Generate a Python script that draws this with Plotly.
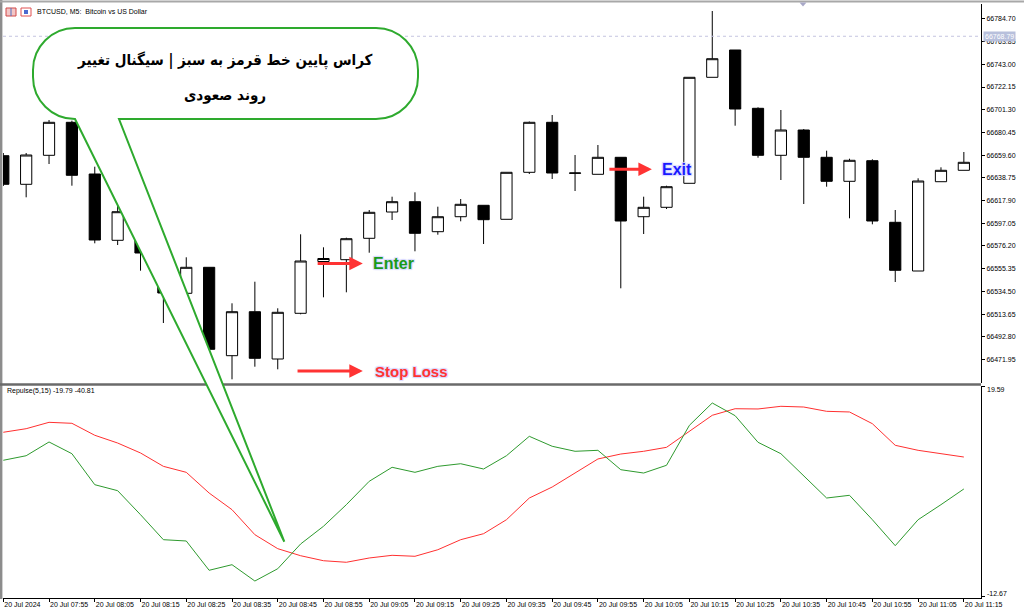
import plotly.graph_objects as go
import pandas as pd

# ---------------- data ----------------
times = pd.date_range("2024-07-20 07:45", periods=43, freq="5min")

open_ = [66659.10, 66632.84, 66659.47, 66689.77, 66642.30, 66581.41, 66583.52, 66567.91, 66532.74, 66556.62,
         66475.44, 66515.84, 66472.41, 66514.38, 66561.94, 66563.60, 66583.25, 66607.40, 66616.86, 66589.31,
         66603.08, 66613.55, 66600.70, 66643.85, 66689.77, 66642.94, 66642.02, 66657.63, 66603.08, 66611.72,
         66633.75, 66731.10, 66756.16, 66702.63, 66659.47, 66682.70, 66657.63, 66635.59, 66654.51, 66597.94,
         66553.22, 66635.22, 66645.69]
high = [66661.58, 66661.58, 66691.88, 66691.24, 66649.00, 66613.83, 66589.03, 66572.50, 66565.80, 66556.62,
        66523.56, 66543.39, 66518.97, 66586.92, 66574.98, 66583.80, 66609.24, 66621.45, 66625.49, 66612.27,
        66619.34, 66613.55, 66643.85, 66690.51, 66696.47, 66659.74, 66668.93, 66657.63, 66621.45, 66631.55,
        66731.10, 66791.98, 66756.16, 66703.55, 66701.07, 66683.62, 66663.69, 66656.34, 66655.79, 66609.24,
        66638.35, 66648.45, 66662.50]
low = [66631.28, 66620.90, 66651.48, 66631.55, 66578.66, 66577.10, 66553.50, 66505.47, 66532.74, 66481.32,
       66453.77, 66465.34, 66462.95, 66513.46, 66529.07, 66533.66, 66570.02, 66600.05, 66571.31, 66586.55,
       66598.86, 66578.01, 66600.70, 66642.30, 66637.70, 66626.68, 66642.02, 66537.33, 66587.20, 66610.15,
       66633.75, 66731.10, 66686.65, 66657.26, 66636.78, 66614.75, 66630.63, 66601.61, 66596.10, 66543.12,
       66553.22, 66635.22, 66645.69]
close = [66632.84, 66659.74, 66689.77, 66641.10, 66581.69, 66607.67, 66569.75, 66533.02, 66556.62, 66481.32,
         66515.84, 66473.05, 66515.29, 66562.40, 66564.70, 66582.88, 66607.12, 66616.86, 66587.84, 66603.08,
         66614.47, 66600.33, 66643.85, 66689.77, 66643.21, 66643.21, 66657.63, 66599.13, 66611.72, 66630.63,
         66731.10, 66748.17, 66701.98, 66659.47, 66682.70, 66657.63, 66635.59, 66654.88, 66599.13, 66553.86,
         66635.87, 66645.69, 66653.04]

repulse_green = [8.18, 8.88, 10.99, 9.19, 4.43, 3.51, -0.18, -4.02, -4.22, -8.72,
                 -7.86, -10.37, -8.48, -4.68, -1.96, 1.36, 4.95, 7.10, 6.33, 7.25,
                 7.65, 6.84, 8.88, 11.86, 10.33, 9.56, 9.71, 6.73, 6.22, 7.41,
                 13.55, 16.98, 15.03, 10.94, 9.19, 5.72, 2.38, 2.80, -0.95, -4.94,
                 -0.95, 1.36, 3.77]
repulse_red = [12.48, 13.03, 14.01, 13.86, 12.02, 10.83, 9.30, 7.25, 6.33, 3.15,
               0.59, -3.25, -5.40, -6.48, -7.25, -7.49, -6.83, -6.42, -6.57, -5.56,
               -4.02, -3.10, -0.95, 2.38, 4.07, 6.22, 8.38, 9.14, 9.56, 10.17,
               12.63, 15.09, 16.10, 16.06, 16.47, 16.36, 15.70, 15.60, 13.80, 10.48,
               9.71, 9.19, 8.68]

tick_times = pd.date_range("2024-07-20 07:45", "2024-07-20 11:15", freq="10min")
tick_labels = ["20 Jul 2024"] + ["20 Jul " + t.strftime("%H:%M") for t in tick_times[1:]]

price_ticks = [66784.70, 66763.85, 66743.00, 66722.15, 66701.30, 66680.45, 66659.60, 66638.75,
               66617.90, 66597.05, 66576.20, 66555.35, 66534.50, 66513.65, 66492.80, 66471.95]
repulse_ticks = [19.59, -12.67]
current_price = 66768.79

title_text = "BTCUSD, M5:  Bitcoin vs US Dollar"
indicator_text = "Repulse(5,15) -19.79 -40.81"
bubble_line1 = "کراس پایین خط قرمز به سبز | سیگنال تغییر"
bubble_line2 = "روند صعودی"

# ---------------- layout geometry ----------------
W, H = 1024, 616
PL, PR, PT, PB = 3, 981, 4, 598


def fx(px):
    return (px - PL) / (PR - PL)


def fy(py):
    return (PB - py) / (PB - PT)


FONT = "Liberation Sans, Arial, sans-serif"
x_range = ["2024-07-20 07:44:56.1", "2024-07-20 11:18:45"]

fig = go.Figure()
fig.add_trace(go.Candlestick(
    x=times, open=open_, high=high, low=low, close=close,
    increasing=dict(line=dict(color="#000000", width=1), fillcolor="#ffffff"),
    decreasing=dict(line=dict(color="#000000", width=1), fillcolor="#000000"),
    whiskerwidth=0, xaxis="x", yaxis="y", showlegend=False, name="BTCUSD"))
fig.add_trace(go.Scatter(x=times, y=repulse_red, mode="lines",
                         line=dict(color="#ff3030", width=1), xaxis="x2", yaxis="y2",
                         showlegend=False, name="Repulse slow"))
fig.add_trace(go.Scatter(x=times, y=repulse_green, mode="lines",
                         line=dict(color="#2e9a2e", width=1), xaxis="x2", yaxis="y2",
                         showlegend=False, name="Repulse fast"))

# ---------------- shapes ----------------
shapes = []
shapes.append(dict(type="line", xref="paper", yref="paper", x0=fx(1.2), x1=fx(1.2), y0=fy(0), y1=fy(599),
                   line=dict(color="#8c8c8c", width=2.4)))
shapes.append(dict(type="line", xref="paper", yref="paper", x0=fx(0), x1=fx(1024), y0=fy(1.5), y1=fy(1.5),
                   line=dict(color="#a8a8a8", width=2)))
shapes.append(dict(type="rect", xref="paper", yref="paper", x0=fx(0), x1=fx(981), y0=fy(385.8), y1=fy(383.2),
                   fillcolor="#6a6a6a", line=dict(width=0)))
shapes.append(dict(type="line", xref="paper", yref="y", x0=0, x1=1, y0=current_price, y1=current_price,
                   line=dict(color="#c4c4e0", width=1, dash="dot")))
shapes.append(dict(type="path", xref="paper", yref="paper",
                   path=f"M {fx(799.5)} {fy(2.5)} L {fx(806.5)} {fy(2.5)} L {fx(803)} {fy(6.5)} Z",
                   fillcolor="#a8a8c8", line=dict(width=0)))
shapes.append(dict(type="rect", xref="paper", yref="paper", x0=fx(6), x1=fx(16), y0=fy(16), y1=fy(8),
                   fillcolor="#f3c6c6", line=dict(color="#d04848", width=1)))
shapes.append(dict(type="line", xref="paper", yref="paper", x0=fx(11), x1=fx(11), y0=fy(16), y1=fy(8),
                   line=dict(color="#5070c0", width=1)))
shapes.append(dict(type="rect", xref="paper", yref="paper", x0=fx(21), x1=fx(31), y0=fy(16), y1=fy(8),
                   fillcolor="#ffffff", line=dict(color="#e05050", width=1)))
shapes.append(dict(type="rect", xref="paper", yref="paper", x0=fx(24), x1=fx(28), y0=fy(14), y1=fy(10),
                   fillcolor="#4a6ad0", line=dict(width=0)))

# speech bubble (rounded box + tail)
L, R, T, B, r = 33, 418, 28, 119, 42
k = 0.5523 * r
tip = (284.3, 541.7)
pts = []
pts.append(f"M {fx(L + r)} {fy(B)}")
pts.append(f"L {fx(tip[0])} {fy(tip[1])}")
pts.append(f"L {fx(119)} {fy(B)}")
pts.append(f"L {fx(R - r)} {fy(B)}")
pts.append(f"C {fx(R - r + k)} {fy(B)} {fx(R)} {fy(B - r + k)} {fx(R)} {fy(B - r)}")
pts.append(f"L {fx(R)} {fy(T + r)}")
pts.append(f"C {fx(R)} {fy(T + r - k)} {fx(R - r + k)} {fy(T)} {fx(R - r)} {fy(T)}")
pts.append(f"L {fx(L + r)} {fy(T)}")
pts.append(f"C {fx(L + r - k)} {fy(T)} {fx(L)} {fy(T + r - k)} {fx(L)} {fy(T + r)}")
pts.append(f"L {fx(L)} {fy(B - r)}")
pts.append(f"C {fx(L)} {fy(B - r + k)} {fx(L + r - k)} {fy(B)} {fx(L + r)} {fy(B)}")
pts.append("Z")
shapes.append(dict(type="path", xref="paper", yref="paper", path=" ".join(pts),
                   fillcolor="#ffffff", line=dict(color="#2eaa2e", width=2), layer="above"))

# ---------------- annotations ----------------
ann = []
ann.append(dict(xref="paper", yref="paper", x=fx(35), y=fy(11), text=title_text, showarrow=False,
                xanchor="left", yanchor="middle", font=dict(family=FONT, size=7, color="#000000")))
ann.append(dict(xref="paper", yref="paper", x=fx(5), y=fy(390.5), text=indicator_text, showarrow=False,
                xanchor="left", yanchor="middle", font=dict(family=FONT, size=7, color="#000000")))
ann.append(dict(xref="paper", yref="paper", x=fx(985), y=fy(389), text=f"{repulse_ticks[0]:.2f}",
                showarrow=False, xanchor="left", yanchor="middle",
                font=dict(family=FONT, size=7, color="#000000")))
ann.append(dict(xref="paper", yref="paper", x=fx(985), y=fy(593), text=f"{repulse_ticks[1]:.2f}",
                showarrow=False, xanchor="left", yanchor="middle",
                font=dict(family=FONT, size=7, color="#000000")))
ann.append(dict(xref="paper", yref="y", x=fx(983), y=current_price, text=f"{current_price:.2f}",
                showarrow=False, xanchor="left", yanchor="middle", bgcolor="#b8c0dc", borderpad=1,
                font=dict(family=FONT, size=7, color="#ffffff")))

BUBBLE_FONT = "DejaVu Sans Condensed, DejaVu Sans"
ann.append(dict(xref="paper", yref="paper", x=fx(225), y=fy(60), text=f"<b>{bubble_line1}</b>",
                showarrow=False, xanchor="center", yanchor="middle",
                font=dict(family=BUBBLE_FONT, size=15, color="#000000")))
ann.append(dict(xref="paper", yref="paper", x=fx(225), y=fy(95), text=f"<b>{bubble_line2}</b>",
                showarrow=False, xanchor="center", yanchor="middle",
                font=dict(family=BUBBLE_FONT, size=15, color="#000000")))

base = pd.Timestamp("2024-07-20 07:45")


def tm(minutes):
    return (base + pd.Timedelta(minutes=minutes)).strftime("%Y-%m-%d %H:%M:%S")


arrow_color = "#ff3333"
for tail, head, yv in [(68.4, 78.6, 66560.1), (132.2, 141.8, 66646.6), (64.0, 78.6, 66461.4)]:
    ann.append(dict(xref="x", yref="y", axref="x", ayref="y", x=tm(head), y=yv, ax=tm(tail), ay=yv,
                    text="", showarrow=True, arrowhead=2, arrowsize=0.9, arrowwidth=3,
                    arrowcolor=arrow_color, standoff=0, startstandoff=0))

halo = "1px 1px 1px #d8d8ff, -1px -1px 1px #d8d8ff, 1px -1px 1px #d8d8ff, -1px 1px 1px #d8d8ff"
ann.append(dict(xref="x", yref="y", x=tm(80.3), y=66560.2, text="<b>Enter</b>", showarrow=False,
                xanchor="left", yanchor="middle",
                font=dict(family=FONT, size=16, color="#1a9a1a", shadow=halo)))
ann.append(dict(xref="x", yref="y", x=tm(143.6), y=66646.4, text="<b>Exit</b>", showarrow=False,
                xanchor="left", yanchor="middle",
                font=dict(family=FONT, size=16, color="#1a1aff", shadow=halo)))
ann.append(dict(xref="x", yref="y", x=tm(80.9), y=66460.6, text="<b>Stop Loss</b>", showarrow=False,
                xanchor="left", yanchor="middle",
                font=dict(family=FONT, size=15, color="#ff3333", shadow=halo)))

axis_font = dict(family=FONT, size=7, color="#000000")

fig.update_layout(
    width=W, height=H,
    margin=dict(l=PL, r=W - PR, t=PT, b=H - PB, autoexpand=False),
    paper_bgcolor="#ffffff", plot_bgcolor="#ffffff",
    showlegend=False,
    hovermode=False,
    xaxis=dict(domain=[0, 1], anchor="y", type="date", range=x_range, automargin=False,
               showticklabels=False, showgrid=False, zeroline=False, showline=False,
               ticks="", rangeslider=dict(visible=False), fixedrange=True),
    xaxis2=dict(domain=[0, 1], anchor="y2", type="date", range=x_range, automargin=False,
                tickmode="array", tickvals=list(tick_times), ticktext=tick_labels,
                tickangle=0, ticks="outside", ticklen=3, tickcolor="#000000", tickwidth=1,
                ticklabelposition="outside right", tickfont=axis_font,
                showgrid=False, zeroline=False, showline=True, linecolor="#000000", linewidth=1,
                fixedrange=True),
    yaxis=dict(domain=[fy(383), 1], anchor="x", side="right", automargin=False,
               range=[66450.37, 66798.41],
               tickmode="array", tickvals=price_ticks, ticktext=[f"{v:.2f}" for v in price_ticks],
               ticks="outside", ticklen=3, tickcolor="#000000", tickfont=axis_font,
               showgrid=False, zeroline=False, showline=True, linecolor="#000000", linewidth=1,
               fixedrange=True),
    yaxis2=dict(domain=[0, fy(386)], anchor="x2", side="right", automargin=False,
                range=[-12.977, 19.59],
                tickmode="array", tickvals=repulse_ticks, showticklabels=False,
                ticks="outside", ticklen=3, tickcolor="#000000",
                showgrid=False, zeroline=False, showline=True, linecolor="#000000", linewidth=1,
                fixedrange=True),
    shapes=shapes,
    annotations=ann,
)

fig.write_html("out.html", config={"displayModeBar": False},
               post_script="document.body.style.margin='0';document.body.style.overflow='hidden';")
